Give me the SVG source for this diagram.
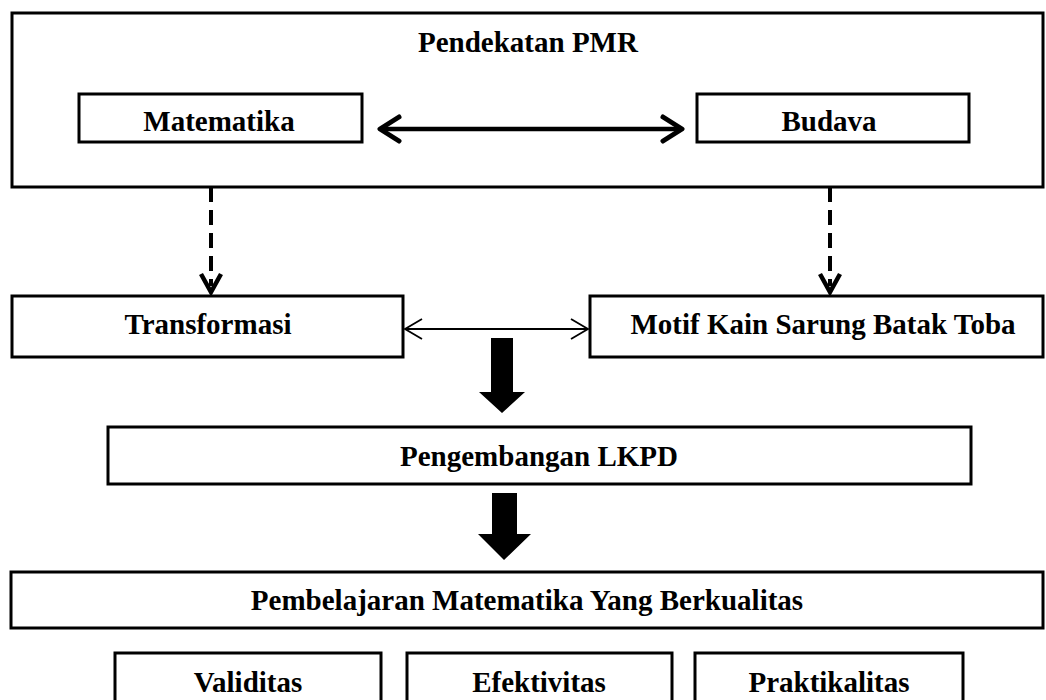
<svg xmlns="http://www.w3.org/2000/svg" width="1046" height="700" viewBox="0 0 1046 700">
<style>
.box{fill:#fff;stroke:#000;stroke-width:3}
.t{font-family:"Liberation Serif","Times New Roman",serif;font-weight:bold;font-size:29px;fill:#000;text-anchor:middle}
.dash{stroke:#000;stroke-width:4;stroke-dasharray:15 8;fill:none}
.vh{stroke:#000;stroke-width:4.5;fill:none;stroke-linejoin:miter}
</style>
<rect width="1046" height="700" fill="#fff"/>
<g id="pendekatan-pmr">
<rect class="box" x="12" y="13" width="1031" height="174"/>
<text class="t" x="528" y="52">Pendekatan PMR</text>
</g>
<g id="matematika">
<rect class="box" x="79" y="94" width="283" height="48"/>
<text class="t" x="219" y="131">Matematika</text>
</g>
<g id="budava">
<rect class="box" x="697" y="94" width="272" height="48"/>
<text class="t" x="829" y="131">Budava</text>
</g>
<g id="transformasi">
<rect class="box" x="12" y="296" width="391" height="61"/>
<text class="t" x="208" y="334">Transformasi</text>
</g>
<g id="motif">
<rect class="box" x="590" y="296" width="453" height="61"/>
<text class="t" x="823" y="334">Motif Kain Sarung Batak Toba</text>
</g>
<g id="pengembangan-lkpd">
<rect class="box" x="108" y="427" width="863" height="57"/>
<text class="t" x="539" y="466">Pengembangan LKPD</text>
</g>
<g id="pembelajaran">
<rect class="box" x="11" y="572" width="1032" height="56"/>
<text class="t" x="527" y="610">Pembelajaran Matematika Yang Berkualitas</text>
</g>
<g id="validitas">
<rect class="box" x="115" y="653" width="266" height="60"/>
<text class="t" x="248" y="692">Validitas</text>
</g>
<g id="efektivitas">
<rect class="box" x="407" y="653" width="265" height="60"/>
<text class="t" x="539" y="692">Efektivitas</text>
</g>
<g id="praktikalitas">
<rect class="box" x="695" y="653" width="268" height="60"/>
<text class="t" x="829" y="692">Praktikalitas</text>
</g>
<g id="connectors">
<line x1="382" y1="129" x2="680" y2="129" stroke="#000" stroke-width="4.5"/>
<polyline points="399,117 380,129 399,141" fill="none" stroke="#000" stroke-width="5" stroke-linecap="round" stroke-linejoin="round"/>
<polyline points="663,117 682,129 663,141" fill="none" stroke="#000" stroke-width="5" stroke-linecap="round" stroke-linejoin="round"/>
<line class="dash" x1="211" y1="187" x2="211" y2="286"/>
<polyline class="vh" points="201,274 211,292 221,274"/>
<line class="dash" x1="830" y1="187" x2="830" y2="286"/>
<polyline class="vh" points="820,274 830,292 840,274"/>
<line x1="405" y1="329" x2="588" y2="329" stroke="#000" stroke-width="1.8"/>
<polyline points="422,319 405,329 422,339" fill="none" stroke="#000" stroke-width="1.8"/>
<polyline points="571,319 588,329 571,339" fill="none" stroke="#000" stroke-width="1.8"/>
<polygon points="491,338 513,338 513,392 525,392 502,413 479,392 491,392" fill="#000"/>
<polygon points="492,493 517,493 517,534 531,534 504,560 478,534 492,534" fill="#000"/>
</g>
</svg>
